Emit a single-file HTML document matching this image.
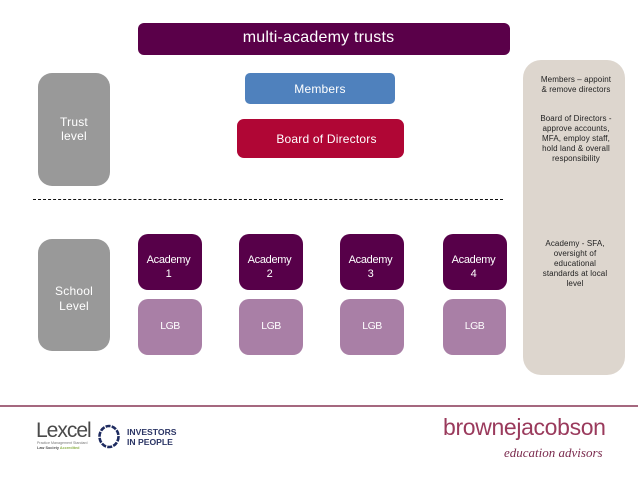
<!DOCTYPE html>
<html><head><meta charset="utf-8"><style>
html,body{margin:0;padding:0;background:#fff}
#p{position:relative;width:638px;height:479px;overflow:hidden;background:#fff;font-family:"Liberation Sans",sans-serif}
.b{position:absolute;display:flex;align-items:center;justify-content:center;text-align:center;color:#fff;font-size:12px;line-height:14px;box-sizing:border-box;letter-spacing:.4px}
.a{background:#570049;border-radius:10px;width:64px;height:56px;top:234px;font-size:11px;line-height:13.5px;letter-spacing:-.3px;padding:11px 3px 0 0}
.l{background:#a97fa6;border-radius:10px;width:64px;height:56px;top:299px;font-size:10.5px;letter-spacing:-.5px;padding-bottom:2px}
.t{position:absolute;white-space:nowrap}
.s{position:absolute;left:525px;width:102px;text-align:center;color:#222;font-size:8px;line-height:9.9px;letter-spacing:.1px}
</style></head><body><div id="p">
<div class="b" style="left:138px;top:23px;width:372px;height:32px;background:#5a0049;border-radius:6px;font-size:16px;letter-spacing:.2px;padding:0 11px 2px 0">multi-academy trusts</div>
<div class="b" style="left:245px;top:73px;width:150px;height:31px;background:#4f81bd;border-radius:5px;padding-top:1px;letter-spacing:.2px">Members</div>
<div class="b" style="left:237px;top:119px;width:167px;height:39px;background:#b00635;border-radius:7px;padding-left:12px;letter-spacing:.2px">Board of Directors</div>
<div class="b" style="left:38px;top:73px;width:72px;height:113px;background:#999;border-radius:14px;padding-bottom:1px;letter-spacing:.2px;line-height:14px">Trust<br>level</div>
<div class="b" style="left:38px;top:239px;width:72px;height:112px;background:#999;border-radius:14px;padding-top:8px;line-height:15px;letter-spacing:.2px">School<br>Level</div>
<div style="position:absolute;left:33px;top:199px;width:470px;border-top:1px dashed #111"></div>
<div class="b a" style="left:138px">Academy<br>1</div>
<div class="b a" style="left:239px">Academy<br>2</div>
<div class="b a" style="left:340px">Academy<br>3</div>
<div class="b a" style="left:443px">Academy<br>4</div>
<div class="b l" style="left:138px">LGB</div>
<div class="b l" style="left:239px">LGB</div>
<div class="b l" style="left:340px">LGB</div>
<div class="b l" style="left:443px;width:63px">LGB</div>
<div style="position:absolute;left:523px;top:60px;width:102px;height:315px;background:#ddd6ce;border-radius:18px"></div>
<div class="s" style="top:75px">Members – appoint<br>&amp; remove directors</div>
<div class="s" style="top:114px">Board of Directors -<br>approve accounts,<br>MFA, employ staff,<br>hold land &amp; overall<br>responsibility</div>
<div class="s" style="top:239px;left:524px">Academy - SFA,<br>oversight of<br>educational<br>standards at local<br>level</div>
<div style="position:absolute;left:0;top:405px;width:638px;height:2px;background:#a5687f"></div>
<div class="t" style="left:36px;top:418px;font:21px/26px 'Liberation Sans',sans-serif;letter-spacing:-1px;color:#4a4a4a">Lexcel</div>
<div class="t" style="left:37px;top:441px;font:3.6px/5px 'Liberation Sans',sans-serif;color:#777">Practice Management Standard</div>
<div class="t" style="left:37px;top:446px;font:bold 3.8px/5px 'Liberation Sans',sans-serif;color:#555">Law Society <span style="color:#8cb04a">Accredited</span></div>
<svg style="position:absolute;left:97px;top:424px" width="24" height="26"><ellipse cx="12" cy="12.5" rx="9.5" ry="10.5" fill="none" stroke="#1d2a5f" stroke-width="2.6" stroke-dasharray="5 1.2"/></svg>
<div class="t" style="left:127px;top:427px;font:bold 8.6px/10px 'Liberation Sans',sans-serif;color:#2b3565">INVESTORS<br>IN PEOPLE</div>
<div class="t" style="left:443px;top:412px;font:23px/30px 'Liberation Sans',sans-serif;letter-spacing:-.35px;color:#9a3a5c">brownejacobson</div>
<div class="t" style="left:504px;top:444px;font:italic 13px/18px 'Liberation Serif',serif;color:#7a2a4d">education advisors</div>
</div></body></html>
